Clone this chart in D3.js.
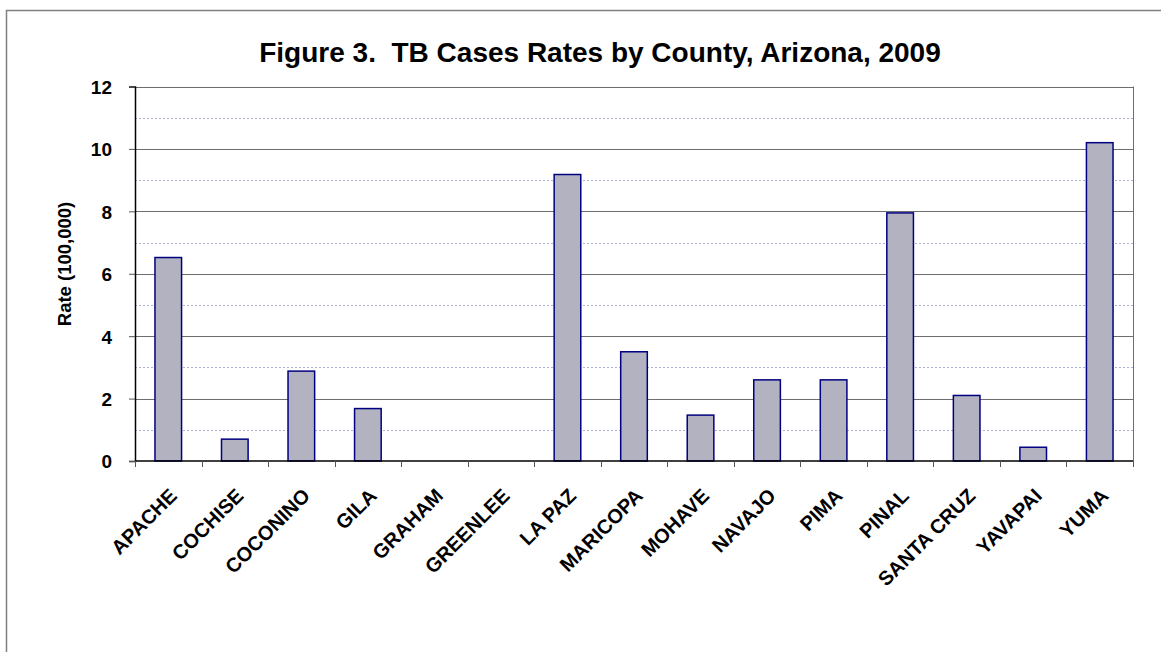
<!DOCTYPE html>
<html>
<head>
<meta charset="utf-8">
<script src="https://cdn.jsdelivr.net/npm/d3@7"></script>
<style>
  body { margin: 0; background: #fff; }
  text { font-family: "Liberation Sans", Arial, sans-serif; font-weight: bold; fill: #000; }
</style>
</head>
<body>
<div class="chart"></div>
<script>
const counties = ["APACHE", "COCHISE", "COCONINO", "GILA", "GRAHAM", "GREENLEE", "LA PAZ",
  "MARICOPA", "MOHAVE", "NAVAJO", "PIMA", "PINAL", "SANTA CRUZ", "YAVAPAI", "YUMA"];
const rates = [6.52, 0.70, 2.88, 1.68, 0, 0, 9.18, 3.50, 1.47, 2.60, 2.60, 7.95, 2.10, 0.44, 10.2];
const majorTicks = [0, 2, 4, 6, 8, 10, 12];
const minorTicks = [1, 3, 5, 7, 9, 11];

const w = 1161;
const h = 652;
const plotLeft = 135, plotRight = 1133, plotTop = 86.5, plotBottom = 461;

const svg = d3.select(".chart")
              .append("svg")
              .attr("width", w)
              .attr("height", h)

// outer frame
svg.append("rect")
   .attr("x", 6.5)
   .attr("y", 10.5)
   .attr("width", w + 20)
   .attr("height", h + 20)
   .attr("fill", "none")
   .attr("stroke", "#808080")
   .attr("stroke-width", 1.5)

svg.append("text")
   .attr("x", 600)
   .attr("y", 62)
   .attr("text-anchor", "middle")
   .style("font-size", "28px")
   .style("white-space", "pre")
   .text("Figure 3.  TB Cases Rates by County, Arizona, 2009");

const yScale = d3.scaleLinear()
                 .domain([0, 12])
                 .range([plotBottom, plotTop])

const xScale = d3.scaleBand()
                 .domain(counties)
                 .range([plotLeft, plotRight])
                 .paddingInner(0.6)
                 .paddingOuter(0.3)

const bandScale = d3.scaleBand()
                    .domain(counties)
                    .range([plotLeft, plotRight])

// minor dotted gridlines
svg.selectAll(".minor")
   .data(minorTicks)
   .enter()
   .append("line")
   .attr("x1", plotLeft)
   .attr("x2", plotRight)
   .attr("y1", (d) => Math.round(yScale(d)) + 0.5)
   .attr("y2", (d) => Math.round(yScale(d)) + 0.5)
   .attr("stroke", "#aab0d4")
   .attr("stroke-dasharray", "2,2")

// major gridlines
svg.selectAll(".major")
   .data(majorTicks.filter((d) => d > 0))
   .enter()
   .append("line")
   .attr("x1", plotLeft)
   .attr("x2", plotRight)
   .attr("y1", (d) => Math.round(yScale(d)) + 0.5)
   .attr("y2", (d) => Math.round(yScale(d)) + 0.5)
   .attr("stroke", "#6e6e6e")

// right border
svg.append("line")
   .attr("x1", plotRight + 0.5)
   .attr("x2", plotRight + 0.5)
   .attr("y1", plotTop)
   .attr("y2", plotBottom)
   .attr("stroke", "#6e6e6e")

svg.selectAll("rect.bar")
   .data(rates)
   .enter()
   .append("rect")
   .attr("class", "bar")
   .attr("x", (d, i) => xScale(counties[i]))
   .attr("y", (d) => yScale(d))
   .attr("width", xScale.bandwidth())
   .attr("height", (d) => plotBottom - yScale(d))
   .attr("fill", "#b2b2c0")
   .attr("stroke", (d) => d > 0 ? "#000080" : "none")
   .attr("stroke-width", 1.5)

const yAxis = d3.axisLeft(yScale)
                .tickValues(majorTicks)
                .tickSize(6)
                .tickPadding(17)
const yG = svg.append("g")
   .attr("transform", "translate(" + plotLeft + ", 0)")
   .call(yAxis)
yG.select(".domain").attr("stroke", "#000").attr("stroke-width", 1.5)
yG.selectAll(".tick line").attr("stroke", "#555")
yG.selectAll(".tick text")
  .style("font-size", "19px")
  .style("font-family", "'Liberation Sans', Arial, sans-serif")
  .attr("dy", "0.36em")

// x axis line and ticks at band boundaries
svg.append("line")
   .attr("x1", plotLeft)
   .attr("x2", plotRight)
   .attr("y1", plotBottom)
   .attr("y2", plotBottom)
   .attr("stroke", "#000")
   .attr("stroke-width", 1.5)

svg.selectAll(".xtick")
   .data(counties.concat(["end"]))
   .enter()
   .append("line")
   .attr("x1", (d, i) => Math.round(plotLeft + i * bandScale.bandwidth()) + 0.5)
   .attr("x2", (d, i) => Math.round(plotLeft + i * bandScale.bandwidth()) + 0.5)
   .attr("y1", plotBottom)
   .attr("y2", plotBottom + 6)
   .attr("stroke", "#555")

svg.selectAll(".xlabel")
   .data(counties)
   .enter()
   .append("text")
   .attr("text-anchor", "end")
   .style("font-size", "20px")
   .attr("transform", (d) => "translate(" + (bandScale(d) + bandScale.bandwidth() / 2 + 10) + ", " + (plotBottom + 36) + ") rotate(-45)")
   .text((d) => d)

svg.append("text")
   .attr("transform", "translate(71, 264) rotate(-90)")
   .attr("text-anchor", "middle")
   .style("font-size", "18.5px")
   .text("Rate (100,000)")
</script>
</body>
</html>
